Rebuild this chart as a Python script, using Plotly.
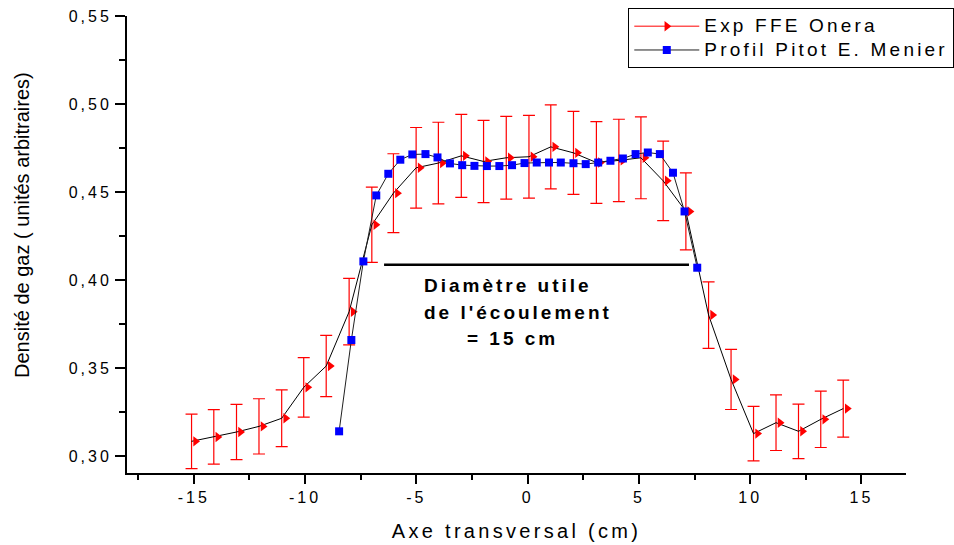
import plotly.graph_objects as go

# ---------------- data ----------------
exp_x = [-15.10, -14.10, -13.08, -12.07, -11.05, -10.06, -9.05, -8.02, -7.00, -6.03,
         -5.01, -4.01, -2.98, -1.98, -0.96, 0.06, 1.04, 2.06, 3.09, 4.10,
         5.09, 6.09, 7.11, 8.13, 9.14, 10.15, 11.16, 12.17, 13.17, 14.18]
exp_y = [0.3083, 0.3108, 0.3136, 0.3168, 0.3214, 0.3390, 0.3511, 0.3820, 0.4314, 0.4494,
         0.4638, 0.4665, 0.4706, 0.4674, 0.4695, 0.4701, 0.4757, 0.4723, 0.4668, 0.4680,
         0.4695, 0.4564, 0.4390, 0.3801, 0.3435, 0.3127, 0.3189, 0.3140, 0.3208, 0.3269]
exp_err = [0.0155, 0.0155, 0.0157, 0.0157, 0.0161, 0.0169, 0.0174, 0.0189, 0.0214, 0.0224,
           0.0229, 0.0232, 0.0236, 0.0234, 0.0235, 0.0235, 0.0239, 0.0236, 0.0232, 0.0234,
           0.0233, 0.0226, 0.0219, 0.0189, 0.0171, 0.0155, 0.0158, 0.0155, 0.0160, 0.0162]

pitot_x = [-8.47, -7.92, -7.38, -6.80, -6.26, -5.72, -5.18, -4.59, -4.05, -3.49,
           -2.94, -2.39, -1.83, -1.27, -0.70, -0.14, 0.41, 0.96, 1.49, 2.06,
           2.61, 3.17, 3.72, 4.28, 4.85, 5.40, 5.94, 6.53, 7.05, 7.62]
pitot_y = [0.3140, 0.3659, 0.4106, 0.4481, 0.4604, 0.4684, 0.4714, 0.4716, 0.4697, 0.4663,
           0.4653, 0.4649, 0.4648, 0.4648, 0.4653, 0.4665, 0.4668, 0.4668, 0.4668, 0.4664,
           0.4659, 0.4668, 0.4678, 0.4691, 0.4716, 0.4725, 0.4716, 0.4610, 0.4390, 0.4070]

x_tickvals = [-15, -10, -5, 0, 5, 10, 15]
x_ticklabels = ["-15", "-10", "-5", "0", "5", "10", "15"]
y_tickvals = [0.30, 0.35, 0.40, 0.45, 0.50, 0.55]
y_ticklabels = ["0,30", "0,35", "0,40", "0,45", "0,50", "0,55"]

diam_x = [-6.45, 7.25]
diam_y = 0.4087

FONT = "Liberation Sans, Arial, sans-serif"


def ls(text, sp, size=None):
    st = f"letter-spacing:{sp}px"
    if size:
        st = f"font-size:{size}px;" + st
    return f"<span style='{st}'>{text}</span>"


fig = go.Figure()

# legend-only entry for experimental series (red line + flag marker)
fig.add_trace(go.Scatter(
    x=[None], y=[None], mode="lines+markers", name=ls("Exp FFE Onera", 3.2, 19),
    line=dict(color="#ff0000", width=1),
    marker=dict(symbol="triangle-right", color="#ff0000", size=9),
))

fig.add_trace(go.Scatter(
    x=exp_x, y=exp_y, mode="lines+markers", showlegend=False,
    line=dict(color="#000000", width=1),
    marker=dict(symbol="triangle-down", angle=-90, standoff=4, color="#ff0000", size=9,
                line=dict(width=0)),
    error_y=dict(type="data", array=exp_err, visible=True, color="#ff0000",
                 thickness=1.2, width=6),
))

fig.add_trace(go.Scatter(
    x=pitot_x, y=pitot_y, mode="lines+markers",
    name=ls("Profil Pitot E. Menier", 3.2, 19),
    line=dict(color="#202020", width=1),
    marker=dict(symbol="square", color="#0000ff", size=8, line=dict(width=0)),
))

fig.add_shape(type="line", xref="x", yref="y", x0=diam_x[0], x1=diam_x[1],
              y0=diam_y, y1=diam_y, line=dict(color="#000000", width=2.5))

ann_font = dict(family=FONT, size=19, color="#000000")
for txt, ax, ay in [("Diamètre utile", -4.75, 0.3969),
                    ("de l'écoulement", -4.75, 0.3816),
                    ("= 15 cm", -2.80, 0.3666)]:
    fig.add_annotation(x=ax, y=ay, xref="x", yref="y", xanchor="left", yanchor="middle",
                       text=ls(f"<b>{txt}</b>", 3), showarrow=False, font=ann_font)

# y-axis title (placed as rotated text, slightly above the axis centre as in the original)
fig.add_annotation(x=-0.1348, y=0.5427, xref="paper", yref="paper",
                   xanchor="center", yanchor="middle", textangle=-90,
                   text="Densité de gaz ( unités arbitraires)", showarrow=False,
                   font=dict(family=FONT, size=20, color="#000000"))

fig.update_layout(
    width=954, height=545,
    margin=dict(l=127, r=48, t=16, b=72, autoexpand=False),
    paper_bgcolor="white", plot_bgcolor="white",
    font=dict(family=FONT, color="#000000"),
    showlegend=True,
    legend=dict(x=0.6435, y=1.0169, xanchor="left", yanchor="top",
                bgcolor="white", bordercolor="#000000", borderwidth=1,
                font=dict(family=FONT, size=16, color="#000000"),
                itemwidth=65, tracegroupgap=0),
    xaxis=dict(
        range=[-18, 17], showgrid=False, zeroline=False,
        showline=True, linecolor="#000000", linewidth=2,
        ticks="outside", ticklen=9, tickwidth=2, tickcolor="#000000",
        tickmode="array", tickvals=x_tickvals,
        ticktext=[ls(t, 3) for t in x_ticklabels],
        tickfont=dict(family=FONT, size=16, color="#000000"),
        minor=dict(ticks="outside", dtick=2.5, tick0=0, ticklen=5, tickwidth=2,
                   tickcolor="#000000", showgrid=False),
        title=dict(text=ls("Axe transversal (cm)", 3.3),
                   font=dict(family=FONT, size=20, color="#000000"), standoff=19),
    ),
    yaxis=dict(
        range=[0.2903, 0.5501], showgrid=False, zeroline=False,
        showline=True, linecolor="#000000", linewidth=2,
        ticks="outside", ticklen=10, tickwidth=2, tickcolor="#000000",
        tickmode="array", tickvals=y_tickvals,
        ticktext=[ls(t, 3) for t in y_ticklabels],
        tickfont=dict(family=FONT, size=16, color="#000000"),
        minor=dict(ticks="outside", dtick=0.025, tick0=0.3, ticklen=6, tickwidth=2,
                   tickcolor="#000000", showgrid=False),
    ),
)

fig.write_html("out.html", config={"displayModeBar": False},
               post_script="document.body.style.margin='0';")
